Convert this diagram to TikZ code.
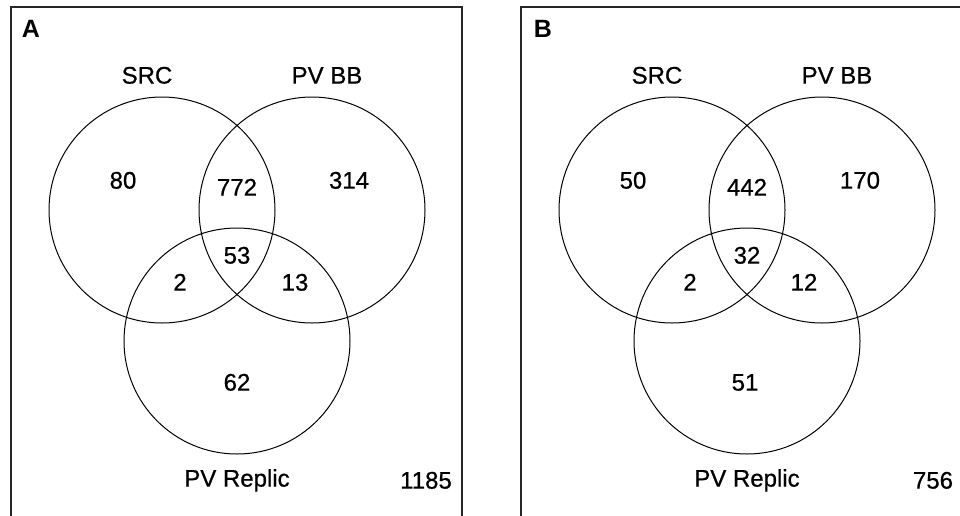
\documentclass[tikz,border=0pt]{standalone}
\usepackage{fontspec}
\setmainfont{Liberation Sans}
\newfontfamily\vennfont{Liberation Sans}[FakeBold=0.7]
\usetikzlibrary{positioning}

\begin{document}
\begin{tikzpicture}[
    x=1pt, y=-1pt,
    set/.style={circle, draw, line width=1pt, minimum size=226pt, inner sep=0pt},
    lbl/.style={font=\vennfont\fontsize{24}{28}\selectfont, inner sep=0pt, text height=17.2pt, text depth=0pt},
    tag/.style={lbl, font=\fontsize{25}{28}\selectfont\bfseries},
    panel/.style={line width=1.4pt, draw=black!85}
]
    \useasboundingbox (0,0) rectangle (960,515);

    % Panel A
    \draw[panel] (11,516) -- (11,7) -- (462,7) -- (462,516);
    \node[tag] (tagA) at (31,29) {A};

    \node[set] (srcA) at (162,210) {};
    \node[set] (bbA) at (312,210) {};
    \node[set] (repA) at (237,341) {};

    \node[lbl] (srcnameA) at (147,75) {SRC};
    \node[lbl] (bbnameA) at (327,75) {PV BB};
    \node[lbl] (repnameA) at (237,478) {PV Replic};

    % Counts A
    \node[lbl] (nsrcA) at (123,180) {80};
    \node[lbl] (nsrcbbA) at (237,187) {772};
    \node[lbl] (nbbA) at (349,180) {314};
    \node[lbl] (nallA) at (237,255) {53};
    \node[lbl] (nsrcrepA) at (180,282) {2};
    \node[lbl] (nbbrepA) at (295,282) {13};
    \node[lbl] (nrepA) at (237,382) {62};
    \node[lbl] (noneA) at (426,480) {1185};

    % Panel B
    \draw[panel] (521,516) -- (521,7) -- (962,7);
    \node[tag] (tagB) at (543,29) {B};

    \node[set] (srcB) at (672,210) {};
    \node[set] (bbB) at (822,210) {};
    \node[set] (repB) at (747,341) {};

    \node[lbl] (srcnameB) at (657,75) {SRC};
    \node[lbl] (bbnameB) at (837,75) {PV BB};
    \node[lbl] (repnameB) at (747,478) {PV Replic};

    % Counts B
    \node[lbl] (nsrcB) at (633,180) {50};
    \node[lbl] (nsrcbbB) at (747,187) {442};
    \node[lbl] (nbbB) at (860,180) {170};
    \node[lbl] (nallB) at (747,255) {32};
    \node[lbl] (nsrcrepB) at (690,282) {2};
    \node[lbl] (nbbrepB) at (804,282) {12};
    \node[lbl] (nrepB) at (745,382) {51};
    \node[lbl] (noneB) at (933,480) {756};
\end{tikzpicture}
\end{document}
